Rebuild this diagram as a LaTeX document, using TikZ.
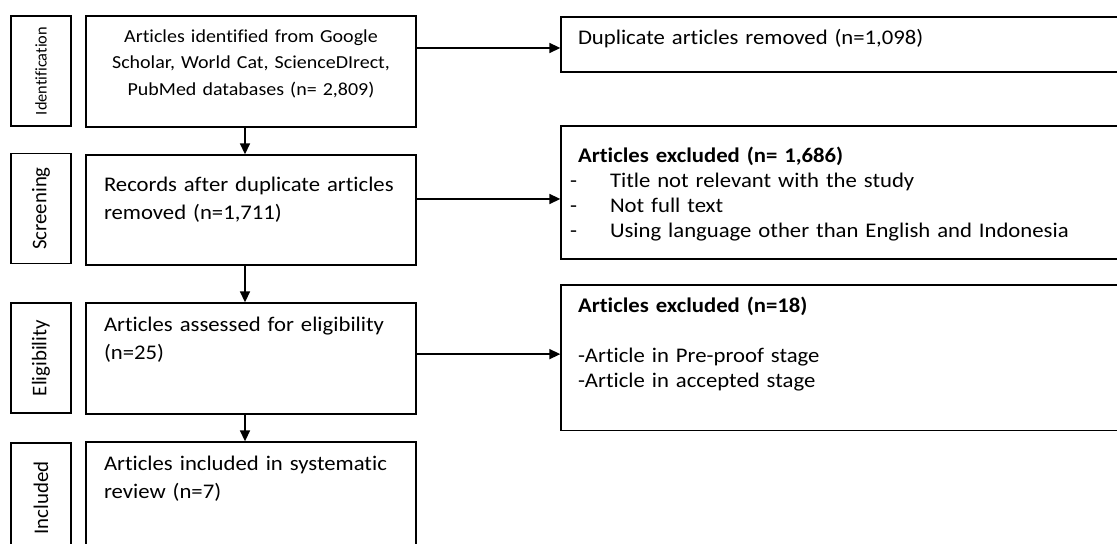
\documentclass[tikz,border=0pt]{standalone}
\usepackage{fontspec}
\setmainfont{Carlito}[FakeStretch=1.09, Ligatures={NoCommon}]
\newfontfamily\sidefont{Carlito}[Ligatures={NoCommon}]
\usepackage{tikz}
\usetikzlibrary{arrows.meta}
\tikzstyle{stageRec} = [rectangle, rotate=90, minimum width=66pt, minimum height=36pt, inner sep=0pt, line width=0.8pt, text centered, font=\sidefont\fontsize{12.5}{14}\selectfont]
\tikzstyle{flowRec} = [rectangle, text width=176.4pt, inner xsep=10.8pt, inner ysep=0pt, line width=0.8pt, align=left, font=\fontsize{12.5}{17}\selectfont]
\tikzstyle{exclRec} = [rectangle, text width=318pt, inner xsep=10.2pt, inner ysep=0pt, line width=0.8pt, align=left, font=\fontsize{12.5}{15}\selectfont]
\tikzstyle{flowArrow} = [-{Triangle[length=6.6pt,width=6pt]}, line width=0.9pt]

\begin{document}
\begin{tikzpicture}[x=0.6pt, y=-0.6pt]
    \useasboundingbox (0,0) rectangle (1117,544);

    \node (IdentLbl) [stageRec, draw=black, font=\sidefont\fontsize{9.8}{12}\selectfont] at (41,71) {Identification};
    \node (ScreenLbl) [stageRec, draw=black] at (41,208.5) {Screening};
    \node (EligLbl) [stageRec, draw=black] at (41,358) {Eligibility};
    \node (InclLbl) [stageRec, draw=black] at (41,498) {Included};

    \node (Ident) [flowRec, draw=black, align=center, text height=16pt, text depth=50.6pt, font=\fontsize{11}{15.8}\selectfont] at (251,71.5) {Articles identified from Google Scholar, World Cat, ScienceDIrect, PubMed databases (n= 2,809)};
    \node (Screen) [flowRec, draw=black, text height=22pt, text depth=44pt] at (251,210) {Records after duplicate articles removed (n=1,711)};
    \node (Elig) [flowRec, draw=black, text height=17.2pt, text depth=49.4pt] at (251,358.5) {Articles assessed for eligibility (n=25)};
    \node (Incl) [flowRec, draw=black, text height=16.8pt, text depth=49.2pt] at (251,497) {Articles included in systematic review (n=7)};

    \node (Dup) [exclRec, draw=black, text height=16.4pt, text depth=16.6pt] at (843,44.5) {Duplicate articles removed (n=1,098)};
    \node (ExclA) [exclRec, draw=black, text height=21.8pt, text depth=58pt] at (843,192.5) {\textbf{Articles excluded (n= 1,686)}\\
        \hspace*{-4.8pt}\makebox[24pt][l]{-}Title not relevant with the study\\
        \hspace*{-4.8pt}\makebox[24pt][l]{-}Not full text\\
        \hspace*{-4.8pt}\makebox[24pt][l]{-}Using language other than English and Indonesia};
    \node (ExclB) [exclRec, draw=black, text height=16.6pt, text depth=70.8pt] at (843,357.8) {\textbf{Articles excluded (n=18)}\\[15pt]
        -Article in Pre-proof stage\\
        -Article in accepted stage};

    \draw [flowArrow] ([xshift=-3.6pt]Ident.south) -- ([xshift=-3.6pt]Screen.north);
    \draw [flowArrow] ([xshift=-3.6pt]Screen.south) -- ([xshift=-3.6pt]Elig.north);
    \draw [flowArrow] ([xshift=-3.6pt]Elig.south) -- ([xshift=-3.6pt]Incl.north);

    \draw [flowArrow] ([yshift=-2.1pt]Dup.west -| Ident.east) -- ([yshift=-2.1pt]Dup.west);
    \draw [flowArrow] ([yshift=-3.9pt]ExclA.west -| Screen.east) -- ([yshift=-3.9pt]ExclA.west);
    \draw [flowArrow] ([yshift=2.2pt]ExclB.west -| Elig.east) -- ([yshift=2.2pt]ExclB.west);
\end{tikzpicture}
\end{document}
